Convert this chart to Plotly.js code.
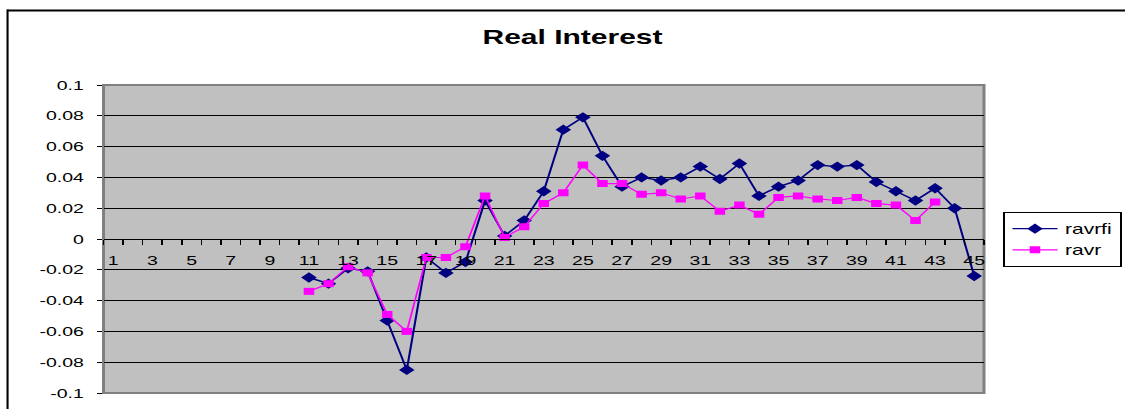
<!DOCTYPE html>
<html>
<head>
<meta charset="utf-8">
<script src="https://cdn.plot.ly/plotly-3.0.1.min.js"></script>
<style>
  html, body { margin: 0; padding: 0; background: #ffffff; overflow: hidden; }
  #chart { width: 750px; height: 409px; transform: scaleX(1.5); transform-origin: 0 0; }
</style>
</head>
<body>
<div id="chart"></div>
<script>
// Periods 1..45
const periods = Array.from({length: 45}, (_, i) => i + 1);

// Real interest, ravrfi series (no data before period 11)
const ravrfi = [
  null, null, null, null, null, null, null, null, null, null,
  -0.025, -0.029, -0.019, -0.021, -0.053, -0.085, -0.012, -0.022, -0.015, 0.025,
  0.002, 0.012, 0.031, 0.071, 0.079, 0.054, 0.034, 0.040, 0.038, 0.040,
  0.047, 0.039, 0.049, 0.028, 0.034, 0.038, 0.048, 0.047, 0.048, 0.037,
  0.031, 0.025, 0.033, 0.020, -0.024
];

// Real interest, ravr series (periods 11..43)
const ravr = [
  null, null, null, null, null, null, null, null, null, null,
  -0.034, -0.029, -0.018, -0.022, -0.049, -0.060, -0.012, -0.012, -0.005, 0.028,
  0.001, 0.008, 0.023, 0.030, 0.048, 0.036, 0.036, 0.029, 0.030, 0.026,
  0.028, 0.018, 0.022, 0.016, 0.027, 0.028, 0.026, 0.025, 0.027, 0.023,
  0.022, 0.012, 0.024, null, null
];

// Axis labels
const xTickVals = periods.filter(p => p % 2 === 1);
const xTickText = xTickVals.map(String);
const yTickVals = [0.1, 0.08, 0.06, 0.04, 0.02, 0, -0.02, -0.04, -0.06, -0.08, -0.1];
const yTickText = ['0.1', '0.08', '0.06', '0.04', '0.02', '0', '-0.02', '-0.04', '-0.06', '-0.08', '-0.1'];

const FONT = 'Liberation Sans, Arial, Helvetica, sans-serif';

const W = 750, H = 409;
const M = {l: 68.7, r: 94, t: 84.7, b: 15.7};
const plotW = W - M.l - M.r;
const plotH = H - M.t - M.b;
// pixel -> paper helpers for the legend and the outer chart frame
const px2x = px => (px - M.l) / plotW;
const py2y = py => 1 - (py - M.t) / plotH;

const traces = [
  {
    x: periods, y: ravrfi, name: 'ravrfi', type: 'scatter', mode: 'lines+markers',
    line: {color: '#000080', width: 1.4},
    marker: {symbol: 'diamond', color: '#000080', size: 8},
    connectgaps: false
  },
  {
    x: periods, y: ravr, name: 'ravr', type: 'scatter', mode: 'lines+markers',
    line: {color: '#FF00FF', width: 1.2},
    marker: {symbol: 'square', color: '#FF00FF', size: 7},
    connectgaps: false
  }
];

const layout = {
  width: W, height: H,
  margin: {l: M.l, r: M.r, t: M.t, b: M.b, pad: 0, autoexpand: false},
  paper_bgcolor: '#ffffff',
  plot_bgcolor: '#C0C0C0',
  font: {family: FONT, size: 13, color: '#000000'},
  title: {
    text: '<b>Real Interest</b>',
    font: {family: FONT, size: 20, color: '#000000'},
    xref: 'container', yref: 'container',
    x: 381.7 / W, xanchor: 'center',
    y: 1 - 37 / H, yanchor: 'middle'
  },
  xaxis: {
    type: 'linear',
    range: [0.5, 45.5],
    anchor: 'free', position: 0.5,
    showgrid: false, zeroline: false,
    showline: true, linecolor: '#000000', linewidth: 1,
    tickmode: 'array', tickvals: xTickVals, ticktext: xTickText,
    ticks: '',
    ticklabelstandoff: 9,
    tickfont: {family: FONT, size: 13, color: '#000000'},
    minor: {
      tickmode: 'array',
      tickvals: periods.map(p => p - 0.5).concat([periods.length + 0.5]),
      ticks: 'outside', ticklen: 5, tickwidth: 1, tickcolor: '#000000',
      showgrid: false
    }
  },
  yaxis: {
    range: [-0.1, 0.1],
    tickmode: 'array', tickvals: yTickVals, ticktext: yTickText,
    showgrid: true, gridcolor: '#000000', gridwidth: 1,
    zeroline: false,
    showline: true, linecolor: '#808080', linewidth: 1,
    ticks: 'outside', ticklen: 3.5, tickwidth: 1, tickcolor: '#000000',
    ticklabelstandoff: 6,
    tickfont: {family: FONT, size: 13, color: '#000000'}
  },
  showlegend: true,
  legend: {
    x: px2x(669), xanchor: 'left',
    y: py2y(212), yanchor: 'top',
    bgcolor: '#ffffff', bordercolor: '#000000', borderwidth: 1,
    font: {family: FONT, size: 14, color: '#000000'},
    tracegroupgap: 0
  },
  shapes: [
    // plot area border
    {type: 'rect', xref: 'paper', yref: 'paper', x0: 0, x1: 1, y0: 0, y1: 1,
     line: {color: '#808080', width: 2}, fillcolor: 'rgba(0,0,0,0)', layer: 'below'},
    // outer chart frame (top and left edges)
    {type: 'line', xref: 'paper', yref: 'paper', x0: px2x(4.3), x1: px2x(W + 5), y0: py2y(10), y1: py2y(10),
     line: {color: '#000000', width: 2}},
    {type: 'line', xref: 'paper', yref: 'paper', x0: px2x(4.7), x1: px2x(4.7), y0: py2y(9), y1: py2y(H + 5),
     line: {color: '#000000', width: 1.4}}
  ]
};

Plotly.newPlot('chart', traces, layout, {displayModeBar: false, responsive: false, staticPlot: true});
</script>
</body>
</html>
